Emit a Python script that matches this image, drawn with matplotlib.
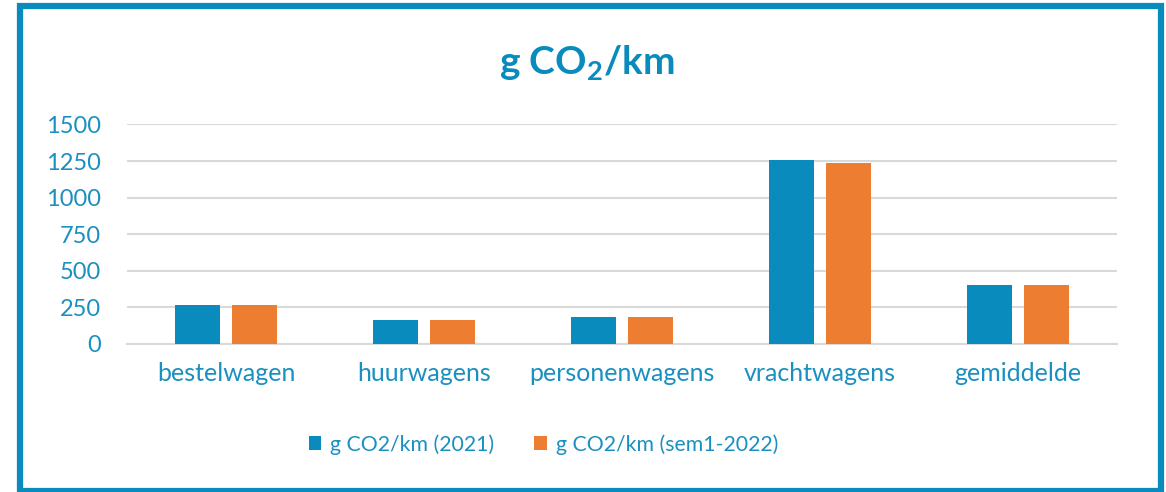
import matplotlib
matplotlib.use("Agg")
import matplotlib.pyplot as plt
import numpy as np
from matplotlib.patches import Rectangle

categories = ["bestelwagen", "huurwagens", "personenwagens", "vrachtwagens", "gemiddelde"]
co2_2021 = [264, 166, 183, 1255, 406]
co2_2022 = [263, 165, 182, 1238, 405]
series_labels = ["g CO2/km (2021)", "g CO2/km (sem1-2022)"]
yticks = [0, 250, 500, 750, 1000, 1250, 1500]

BLUE = "#0a8bbd"
ORANGE = "#ed7d31"
TEXT = "#1a90c0"
GRID = "#d9d9d9"

plt.rcParams["font.family"] = ["Lato", "DejaVu Sans"]
plt.rcParams["mathtext.fontset"] = "custom"
plt.rcParams["mathtext.rm"] = "Lato"
plt.rcParams["mathtext.bf"] = "Lato:bold"

fig = plt.figure(figsize=(11.66, 4.92), dpi=100)
ax = fig.add_axes([0.109, 0.301, 0.849, 0.446])

x = np.arange(len(categories))
w = 0.227
off = 0.144
ax.bar(x - off, co2_2021, w, color=BLUE, label=series_labels[0], zorder=3)
ax.bar(x + off, co2_2022, w, color=ORANGE, label=series_labels[1], zorder=3)

ax.set_xlim(-0.5, len(categories) - 0.5)
ax.set_ylim(0, 1500)
ax.set_yticks(yticks)
ax.set_xticks(x)
ax.set_xticklabels(categories, fontsize=18)
ax.tick_params(axis="both", length=0, labelcolor=TEXT)
ax.tick_params(axis="y", pad=19, labelsize=17)
ax.tick_params(axis="x", pad=13)
ax.grid(axis="y", color=GRID, linewidth=1.5, zorder=0)
for side in ["top", "right", "left"]:
    ax.spines[side].set_visible(False)
ax.spines["bottom"].set_color(GRID)
ax.spines["bottom"].set_linewidth(1.5)

fig.text(0.503, 0.872, r"g CO$_\mathbf{2}$/km", ha="center", va="center",
         fontsize=28, fontweight="bold", color=BLUE)

leg = fig.legend(loc="center", bbox_to_anchor=(0.466, 0.097), ncol=2, frameon=False,
                 fontsize=15.3, handlelength=0.6, handleheight=0.6, handletextpad=0.4,
                 columnspacing=1.9)
for t in leg.get_texts():
    t.set_color(TEXT)

fig.patches.append(Rectangle((20 / 1166, 1 - 491 / 492), 1141 / 1166, 485 / 492,
                             transform=fig.transFigure, fill=False,
                             edgecolor=BLUE, linewidth=4.5))

fig.savefig("out.png", dpi=100)
